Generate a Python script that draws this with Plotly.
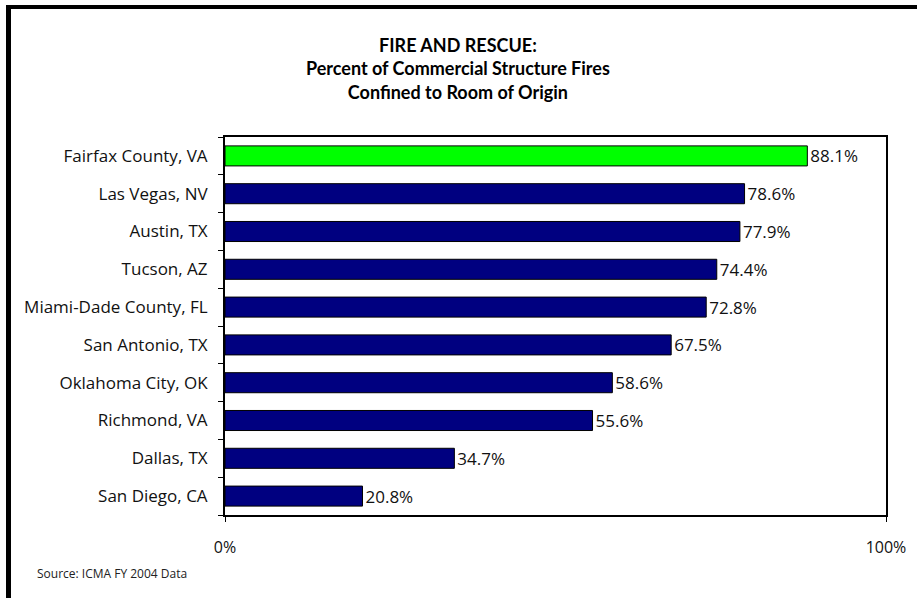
import plotly.graph_objects as go

cities = ["Fairfax County, VA", "Las Vegas, NV", "Austin, TX", "Tucson, AZ",
          "Miami-Dade County, FL", "San Antonio, TX", "Oklahoma City, OK",
          "Richmond, VA", "Dallas, TX", "San Diego, CA"]
values = [88.1, 78.6, 77.9, 74.4, 72.8, 67.5, 58.6, 55.6, 34.7, 20.8]
bar_colors = ["#00FF00"] + ["#000080"] * 9
x_tickvals = [0, 100]
x_ticktext = ["0%", "100%"]

FONT = "Open Sans, Lato, sans-serif"
TFONT = "Lato, Open Sans, sans-serif"

fig = go.Figure(go.Bar(
    x=values, y=cities, orientation="h",
    marker=dict(color=bar_colors, line=dict(color="black", width=1)),
    text=[f"{v:.1f}%" for v in values], textposition="outside",
    textfont=dict(size=17, color="#111", family=FONT),
    constraintext="none",
    cliponaxis=False, width=0.53,
))

fig.update_layout(
    width=917, height=598,
    margin=dict(l=225, r=31, t=137, b=83),
    paper_bgcolor="white", plot_bgcolor="white",
    showlegend=False,
    font=dict(family=FONT, color="#111"),
    xaxis=dict(range=[0, 100], tickvals=x_tickvals, ticktext=x_ticktext,
               showgrid=False, zeroline=False, showline=True, linecolor="black",
               linewidth=2, mirror=True, ticks="outside", ticklen=5,
               tickcolor="black", tickfont=dict(size=16, family=FONT),
               ticklabelstandoff=12),
    yaxis=dict(categoryorder="array", categoryarray=cities[::-1],
               showgrid=False, zeroline=False, showline=True, linecolor="black",
               linewidth=2, mirror=True, ticks="outside", ticklen=5,
               tickson="boundaries", tickcolor="black",
               tickfont=dict(size=17, family=FONT), ticklabelstandoff=12),
    annotations=[
        dict(text="<b>FIRE AND RESCUE:<br>Percent of Commercial Structure Fires<br>Confined to Room of Origin</b>",
             xref="paper", yref="paper",
             x=(458 - 225) / 661, y=(515 - 69) / 378,
             xanchor="center", yanchor="middle", showarrow=False,
             font=dict(size=18, family=TFONT, color="black")),
        dict(text="Source: ICMA FY 2004 Data", xref="paper", yref="paper",
             x=(35 - 225) / 661, y=(515 - 573) / 378,
             xanchor="left", yanchor="middle", showarrow=False,
             font=dict(size=12, family=FONT, color="#222")),
    ],
    shapes=[
        dict(type="line", xref="paper", yref="paper",
             x0=(6 - 225) / 661, x1=(917 - 225) / 661,
             y0=(515 - 7) / 378, y1=(515 - 7) / 378,
             line=dict(color="black", width=4)),
        dict(type="line", xref="paper", yref="paper",
             x0=(8.5 - 225) / 661, x1=(8.5 - 225) / 661,
             y0=(515 - 5) / 378, y1=(515 - 600) / 378,
             line=dict(color="black", width=5)),
    ],
)

fig.write_html("out.html", config={"displayModeBar": False},
               post_script="document.body.style.margin='0';document.body.style.overflow='hidden';")
